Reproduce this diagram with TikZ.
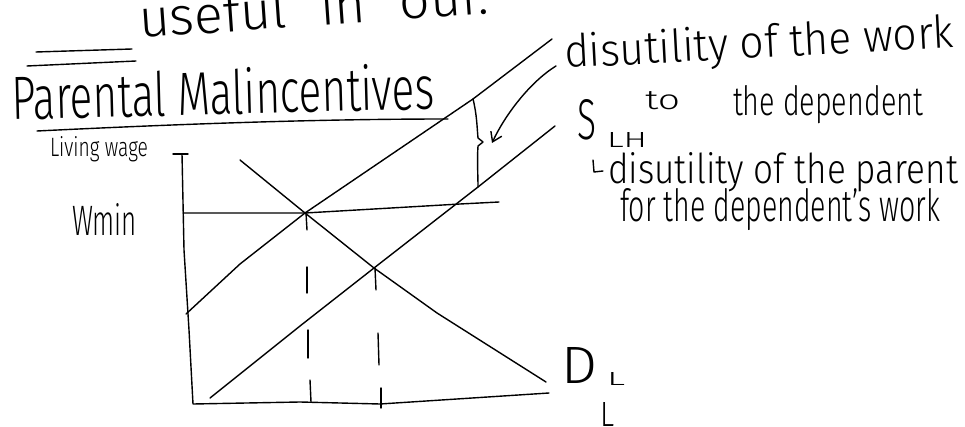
\documentclass[tikz,border=0pt]{standalone}
\usepackage{graphicx}
\usepackage{fontspec}
\setmainfont{Fira Sans Light}
\usetikzlibrary{arrows.meta}
\newcommand\hw[3]{\resizebox{#1pt}{#2pt}{#3}}
\tikzset{
  ink/.style={line width=1.4pt, line cap=round, line join=round},
  hand/.style={anchor=base west, inner sep=0pt, outer sep=0pt},
}
\begin{document}
\begin{tikzpicture}[x=1pt,y=-1pt]
\useasboundingbox (0,0) rectangle (965,427);
\clip (0,0) rectangle (965,427);
% top fragment
\node[hand, rotate=4] (top) at (140,38) {\hw{350}{40}{useful\hspace{0.35em} in\hspace{0.35em} our.}};
\draw[ink] (36,52) -- (132,49);
\draw[ink] (27,66) -- (136,61);
% title
\node[hand, rotate=1.5] (title) at (12,120) {\hw{423}{46}{Parental Malincentives}};
\draw[ink] (37,131) .. controls (200,123) and (330,119) .. (448,119);
% axis labels
\node[hand] (lw) at (50,157) {\hw{98}{20}{Living wage}};
\node[hand] (wmin) at (72,236) {\hw{65}{32}{Wmin}};
% key points
\coordinate (E1) at (305,213);
\coordinate (E2) at (374,268);
\coordinate (B1) at (473,99);
\coordinate (B2) at (478,187);
% axes
\draw[ink] (173,154) -- (188,154);
\draw[ink] (182,154) -- (184,250) -- (189,330) -- (193,404) -- (300,402) -- (380,404) -- (549,393);
% minimum wage line
\draw[ink] (183,213) -- (E1) -- (460,204) -- (499,202);
% upper supply
\draw[ink] (186,314) -- (240,264) -- (E1) -- (B1) -- (552,39);
% lower supply
\draw[ink] (210,398) -- (300,326) -- (E2) -- (B2) -- (555,126);
% demand
\draw[ink] (240,160) -- (E1) -- (E2) -- (437,313) -- (546,382);
% dashed drops
\draw[ink] (306,213) -- (307,230);
\draw[ink] (307,267) -- (307,293);
\draw[ink] (308,330) -- (308,358);
\draw[ink] (310,380) -- (311,402);
\draw[ink] (375,268) -- (376,290);
\draw[ink] (378,333) -- (379,365);
\draw[ink] (381,388) -- (381,408);
% brace
\draw[ink] (B1) .. controls (477,115) and (477,128) .. (478,138) -- (483,142) -- (478,146) .. controls (477,160) and (478,175) .. (B2);
% right labels
\node[hand, rotate=3] (dw) at (565,68) {\hw{390}{34}{disutility of the work}};
\node[hand] (to) at (645,110) {\hw{35}{18}{to}};
\node[hand] (dep) at (733,116) {\hw{190}{30}{the dependent}};
\coordinate (arrS) at (556,66);
\coordinate (arrE) at (492,143);
\draw[ink, -{Straight Barb[length=9pt,width=12pt]}] (arrS) .. controls (530,82) and (505,115) .. (arrE);
\node[hand] (S) at (577,140) {\hw{19}{40}{S}};
\node[hand] (LH) at (607,148) {\hw{40}{15}{LH}};
\draw[ink] (593,160) -- (594,172) -- (603,171);
\node[hand] (dp) at (608,184) {\hw{350}{31}{disutility of the parent}};
\node[hand] (fw) at (620,222) {\hw{320}{33}{for the dependent's work}};
% demand label
\node[hand] (D) at (561,383) {\hw{36}{36}{D}};
\node[hand] (DL) at (607,385) {\hw{18}{13}{L}};
\node[hand] (Lx) at (600,426) {\hw{14}{24}{L}};
\end{tikzpicture}
\end{document}
